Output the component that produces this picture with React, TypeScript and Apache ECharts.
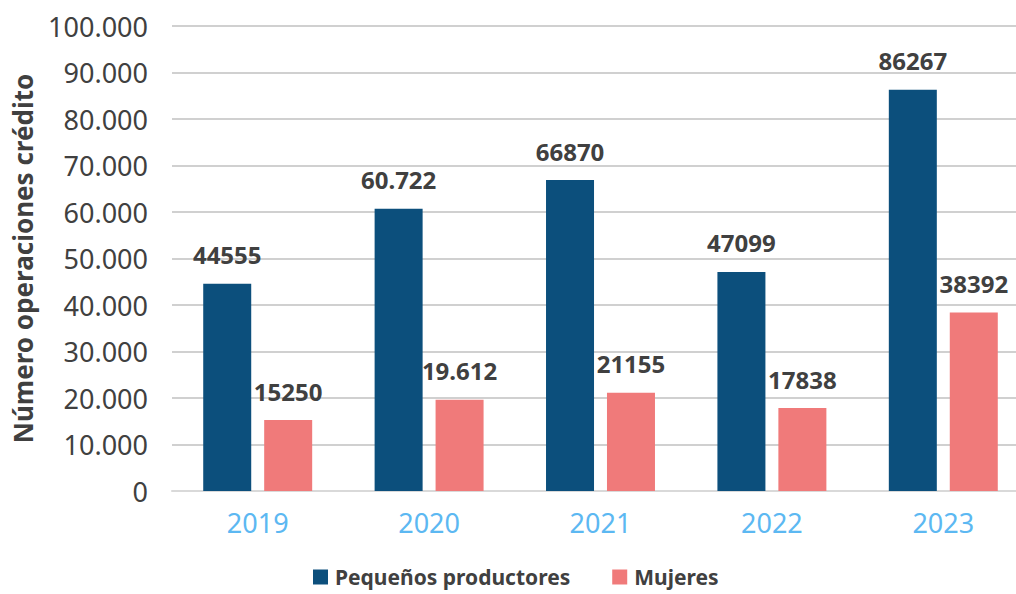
import React, { useEffect, useRef } from "react";
import * as echarts from "echarts";

const categories = ["2019", "2020", "2021", "2022", "2023"];
const pequenos = [44555, 60722, 66870, 47099, 86267];
const mujeres = [15250, 19612, 21155, 17838, 38392];
const pequenosLabels = ["44555", "60.722", "66870", "47099", "86267"];
const mujeresLabels = ["15250", "19.612", "21155", "17838", "38392"];
const yTicks = ["0", "10.000", "20.000", "30.000", "40.000", "50.000", "60.000", "70.000", "80.000", "90.000", "100.000"];

const FONT = "'Noto Sans', sans-serif";

export default function App() {
  const ref = useRef<HTMLDivElement>(null);
  useEffect(() => {
    if (!ref.current) return;
    const chart = echarts.init(ref.current, null, { renderer: "svg" });
    const labelStyle = {
      show: true,
      position: "top",
      distance: 17,
      fontFamily: FONT,
      fontWeight: "bold",
      fontSize: 24,
      color: "#404040",
    };
    chart.setOption({
      animation: false,
      backgroundColor: "#ffffff",
      textStyle: { fontFamily: FONT },
      grid: { left: 172, width: 857, top: 26, height: 465, containLabel: false, outerBoundsMode: "none" },
      legend: {
        left: 313,
        top: 566,
        padding: 0,
        itemWidth: 15,
        itemHeight: 15,
        itemGap: 42,
        icon: "rect",
        textStyle: { fontFamily: FONT, fontWeight: "bold", fontSize: 21, lineHeight: 22, color: "#404040", padding: [0, 0, 0, 2] },
        data: ["Pequeños productores", "Mujeres"],
      },
      xAxis: {
        type: "category",
        data: categories,
        axisLine: { show: true, lineStyle: { color: "#d9d9d9", width: 2 } },
        axisTick: { show: false },
        axisLabel: { fontFamily: FONT, fontSize: 27, color: "#5cb8f2", margin: 18 },
      },
      yAxis: {
        type: "value",
        min: 0,
        max: 100000,
        interval: 10000,
        name: "Número operaciones crédito",
        nameLocation: "middle",
        nameRotate: 90,
        nameGap: 136,
        nameTextStyle: { fontFamily: FONT, fontWeight: "bold", fontSize: 26, color: "#404040" },
        axisLine: { show: false },
        axisTick: { show: false },
        axisLabel: {
          fontFamily: FONT,
          fontSize: 27,
          color: "#404040",
          margin: 24,
          formatter: (v: number) => yTicks[Math.round(v / 10000)] ?? String(v),
        },
        splitLine: { lineStyle: { color: "#d0d0d0", width: 2 } },
      },
      series: [
        {
          name: "Pequeños productores",
          type: "bar",
          data: pequenos,
          barWidth: 48,
          barGap: "27%",
          itemStyle: { color: "#0c4f7c" },
          label: { ...labelStyle, formatter: (p: any) => pequenosLabels[p.dataIndex] },
        },
        {
          name: "Mujeres",
          type: "bar",
          data: mujeres,
          barWidth: 48,
          barGap: "27%",
          itemStyle: { color: "#f07a7a" },
          label: { ...labelStyle, formatter: (p: any) => mujeresLabels[p.dataIndex] },
        },
      ],
    });
    return () => chart.dispose();
  }, []);
  return <div ref={ref} style={{ width: 1016, height: 594, position: "absolute", left: 0, top: 0 }} />;
}
